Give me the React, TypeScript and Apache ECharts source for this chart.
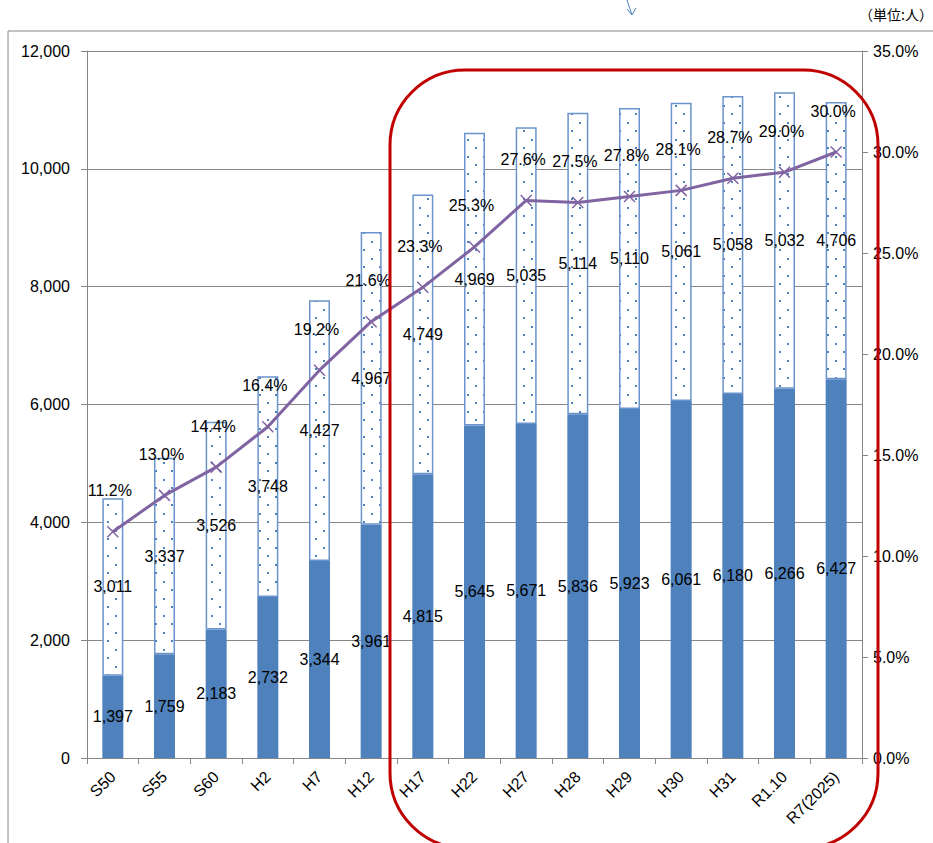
import React, { useEffect, useRef } from "react";
import * as echarts from "echarts";

const categories = ["S50", "S55", "S60", "H2", "H7", "H12", "H17", "H22", "H27", "H28", "H29", "H30", "H31", "R1.10", "R7(2025)"];
const lowerValues = [1397, 1759, 2183, 2732, 3344, 3961, 4815, 5645, 5671, 5836, 5923, 6061, 6180, 6266, 6427];
const upperValues = [3011, 3337, 3526, 3748, 4427, 4967, 4749, 4969, 5035, 5114, 5110, 5061, 5058, 5032, 4706];
const ratioValues = [11.2, 13.0, 14.4, 16.4, 19.2, 21.6, 23.3, 25.3, 27.6, 27.5, 27.8, 28.1, 28.7, 29.0, 30.0];
const unitLabel = "（単位:人）";

const FONT = "'Liberation Sans', Arial, sans-serif";
const BLUE = "#4F81BD";
const PURPLE = "#8064A2";
const GREY = "#868686";

function makeDots(): HTMLCanvasElement {
  const c = document.createElement("canvas");
  c.width = 16;
  c.height = 17;
  const ctx = c.getContext("2d")!;
  ctx.fillStyle = "#ffffff";
  ctx.fillRect(0, 0, 16, 17);
  ctx.fillStyle = BLUE;
  ctx.fillRect(3, 3, 2, 2);
  ctx.fillRect(11, 11, 2, 2);
  return c;
}

export default function App() {
  const ref = useRef<HTMLDivElement>(null);
  useEffect(() => {
    if (!ref.current) return;
    const chart = echarts.init(ref.current, undefined, { renderer: "svg" });
    const fmt = (v: number) => v.toLocaleString("en-US");
    chart.setOption({
      animation: false,
      backgroundColor: "#ffffff",
      textStyle: { fontFamily: FONT },
      grid: { left: 87, right: 71, top: 51, bottom: 85, containLabel: false },
      xAxis: {
        type: "category",
        data: categories,
        boundaryGap: true,
        axisLine: { lineStyle: { color: GREY, width: 1 } },
        axisTick: { show: true, length: 6, lineStyle: { color: GREY } },
        axisLabel: { rotate: 45, fontSize: 16, color: "#000", margin: 16, fontFamily: FONT },
      },
      yAxis: [
        {
          type: "value",
          min: 0,
          max: 12000,
          interval: 2000,
          axisLine: { show: true, lineStyle: { color: GREY } },
          axisTick: { show: true, length: 6, lineStyle: { color: GREY } },
          splitLine: { show: true, lineStyle: { color: GREY, width: 1 } },
          axisLabel: { fontSize: 16, color: "#000", margin: 17, formatter: (v: number) => fmt(v), fontFamily: FONT },
        },
        {
          type: "value",
          min: 0,
          max: 35,
          interval: 5,
          position: "right",
          axisLine: { show: true, lineStyle: { color: GREY } },
          axisTick: { show: true, length: 6, lineStyle: { color: GREY } },
          splitLine: { show: false },
          axisLabel: { fontSize: 16, color: "#000", margin: 11, formatter: (v: number) => v.toFixed(1) + "%", fontFamily: FONT },
        },
      ],
      series: [
        {
          type: "bar",
          stack: "total",
          data: lowerValues,
          barWidth: 21,
          itemStyle: { color: BLUE },
          label: { show: true, position: "inside", color: "#000", fontSize: 16, formatter: (p: any) => fmt(p.value), fontFamily: FONT },
          z: 2,
        },
        {
          type: "bar",
          stack: "total",
          data: upperValues,
          barWidth: 21,
          itemStyle: { color: { image: makeDots(), repeat: "repeat" }, borderColor: "#6A94CB", borderWidth: 1.5 },
          label: { show: true, position: "inside", color: "#000", fontSize: 16, formatter: (p: any) => fmt(p.value), fontFamily: FONT },
          z: 2,
        },
        {
          type: "line",
          yAxisIndex: 1,
          data: ratioValues,
          lineStyle: { color: PURPLE, width: 3 },
          symbol: "path://M0,0L10,10M10,0L0,10",
          symbolSize: 11,
          showSymbol: true,
          itemStyle: { color: "none", borderColor: PURPLE, borderWidth: 1.5 },
          label: { show: true, position: "top", distance: 25, offset: [-3, 0], color: "#000", fontSize: 16, formatter: (p: any) => p.value.toFixed(1) + "%", fontFamily: FONT },
          z: 5,
        },
      ],
      graphic: [
        {
          type: "rect",
          shape: { x: 8, y: 31, width: 1000, height: 900 },
          style: { fill: "none", stroke: GREY, lineWidth: 1 },
          z: 0,
          silent: true,
        },
        {
          type: "rect",
          shape: { x: 390, y: 70, width: 488, height: 778, r: 75 },
          style: { fill: "none", stroke: "#C00000", lineWidth: 3 },
          z: 100,
          silent: true,
        },
        {
          type: "text",
          right: 0,
          top: 7,
          style: { text: unitLabel, fontSize: 14, fill: "#000", fontFamily: "'Noto Sans CJK JP', sans-serif" },
          z: 100,
        },
        {
          type: "polyline",
          shape: { points: [[627, 0], [632, 15]] },
          style: { stroke: BLUE, lineWidth: 1, fill: "none" },
          z: 100,
        },
        {
          type: "polyline",
          shape: { points: [[627, 9], [632, 15], [636, 8]] },
          style: { stroke: BLUE, lineWidth: 1, fill: "none" },
          z: 100,
        },
      ],
    });
    return () => chart.dispose();
  }, []);
  return <div ref={ref} style={{ position: "absolute", left: 0, top: 0, width: 933, height: 843 }} />;
}
